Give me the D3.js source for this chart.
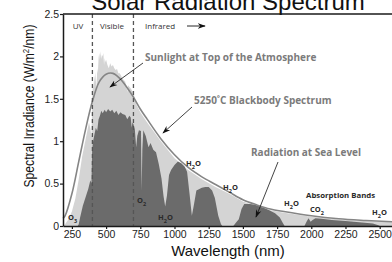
<!DOCTYPE html>
<html>
<head>
<meta charset="utf-8">
<script src="https://cdn.jsdelivr.net/npm/d3@7"></script>
<style>
  body { margin: 0; background: #fff; }
  svg { display: block; font-family: "Liberation Sans", Arial, sans-serif; }
</style>
</head>
<body>
<div id="chart"></div>
<script>
// 5250°C blackbody curve (nm, W/m2/nm)
const bbWave  = [185, 200, 250, 300, 350, 400, 450, 500, 550, 600, 650, 700, 750, 800, 900, 1000, 1100, 1200, 1300, 1400, 1500, 1600, 1700, 1800, 2000, 2200, 2400, 2590];
const bbValue = [0.09, 0.12, 0.38, 0.76, 1.14, 1.47, 1.70, 1.79, 1.80, 1.74, 1.64, 1.52, 1.38, 1.26, 1.03, 0.84, 0.69, 0.58, 0.49, 0.40, 0.31, 0.25, 0.20, 0.17, 0.12, 0.085, 0.065, 0.05];

// sunlight at top of the atmosphere
const toaWave  = [185, 200, 225, 250, 275, 300, 325, 350, 375, 385, 393, 400, 405, 410, 415, 420, 425, 430, 435, 440, 445, 450, 455, 460, 465, 470, 475, 480, 485, 490, 495, 500, 510, 520, 530, 540, 550, 560, 570, 580, 590, 600, 620, 640, 656, 660, 680, 700, 725, 750, 800, 850, 900, 950, 1000, 1100, 1200, 1300, 1400, 1500, 1600, 1700, 1800, 2000, 2200, 2400, 2590];
const toaValue = [0, 0.02, 0.08, 0.17, 0.32, 0.55, 0.82, 1.02, 1.22, 1.15, 1.05, 1.55, 1.72, 1.62, 1.78, 1.70, 1.82, 1.58, 1.86, 1.80, 1.98, 2.04, 1.96, 2.06, 1.97, 2.02, 2.00, 2.04, 1.90, 1.98, 1.93, 1.96, 1.90, 1.86, 1.92, 1.88, 1.90, 1.86, 1.84, 1.85, 1.80, 1.80, 1.74, 1.70, 1.58, 1.66, 1.62, 1.57, 1.42, 1.34, 1.22, 1.11, 1.00, 0.90, 0.80, 0.66, 0.55, 0.46, 0.38, 0.29, 0.235, 0.185, 0.155, 0.108, 0.078, 0.058, 0.044];

// radiation at sea level
const seaWave  = [185, 292, 300, 310, 330, 350, 370, 385, 393, 398, 405, 415, 425, 435, 445, 455, 465, 475, 490, 500, 515, 530, 545, 560, 575, 590, 605, 620, 640, 655, 670, 680, 687, 692, 700, 710, 720, 728, 740, 755, 760, 765, 772, 790, 810, 825, 845, 865, 885, 905, 920, 932, 945, 960, 975, 1000, 1025, 1050, 1075, 1092, 1110, 1127, 1142, 1160, 1175, 1200, 1225, 1250, 1275, 1295, 1320, 1340, 1350, 1430, 1450, 1470, 1490, 1510, 1550, 1590, 1625, 1660, 1700, 1735, 1770, 1790, 1805, 1950, 1965, 1980, 1995, 2010, 2030, 2075, 2150, 2250, 2350, 2450, 2490, 2500, 2590];
const seaValue = [0, 0, 0.02, 0.10, 0.24, 0.34, 0.44, 0.54, 0.50, 0.90, 1.00, 1.08, 1.16, 1.12, 1.26, 1.30, 1.36, 1.33, 1.37, 1.34, 1.38, 1.35, 1.37, 1.33, 1.36, 1.31, 1.34, 1.32, 1.31, 1.26, 1.30, 1.28, 1.16, 1.22, 1.20, 1.14, 0.93, 1.06, 1.13, 1.12, 0.42, 0.90, 1.13, 1.06, 0.93, 0.98, 0.90, 0.87, 0.73, 0.56, 0.35, 0.23, 0.36, 0.60, 0.66, 0.72, 0.76, 0.74, 0.70, 0.64, 0.38, 0.12, 0.25, 0.42, 0.43, 0.45, 0.46, 0.46, 0.42, 0.33, 0.12, 0.02, 0, 0, 0.04, 0.08, 0.20, 0.26, 0.26, 0.25, 0.23, 0.21, 0.18, 0.15, 0.10, 0.04, 0, 0, 0.05, 0.09, 0.05, 0.07, 0.09, 0.085, 0.07, 0.06, 0.045, 0.03, 0.01, 0, 0];

const xTicks = [250, 500, 750, 1000, 1250, 1500, 1750, 2000, 2250, 2500];
const yTicks = [0, 0.5, 1, 1.5, 2, 2.5];
const bandLines = [400, 700];

const width = 392, height = 262;

const svg = d3.select("#chart")
  .append("svg")
  .attr("width", width)
  .attr("height", height);

const x = d3.scaleLinear().domain([185, 2590]).range([63, 392]);
const y = d3.scaleLinear().domain([0, 2.5]).range([226, 14]);

svg.append("defs").append("marker")
  .attr("id", "arrow")
  .attr("viewBox", "0 0 10 10")
  .attr("refX", 9).attr("refY", 5)
  .attr("markerWidth", 8).attr("markerHeight", 8)
  .attr("markerUnits", "userSpaceOnUse")
  .attr("orient", "auto")
  .append("path")
  .attr("d", "M0,1.5 L10,5 L0,8.5 L3,5 Z")
  .attr("fill", "#111");

const toa = toaWave.map((w, i) => ({w: w, v: toaValue[i]}));
const sea = seaWave.map((w, i) => ({w: w, v: seaValue[i]}));
const bb = bbWave.map((w, i) => ({w: w, v: bbValue[i]}));

const area = d3.area()
  .x(d => x(d.w))
  .y0(y(0))
  .y1(d => y(d.v));

// filled spectra
svg.append("path").datum(toa).attr("d", area).attr("fill", "#d4d4d4");
svg.append("path").datum(sea).attr("d", area).attr("fill", "#6b6b6b");

// blackbody line
svg.append("path").datum(bb)
  .attr("d", d3.line().x(d => x(d.w)).y(d => y(d.v)).curve(d3.curveCatmullRom))
  .attr("fill", "none")
  .attr("stroke", "#858585")
  .attr("stroke-width", 1.6);

// UV / visible / IR separators
svg.selectAll("line.band")
  .data(bandLines)
  .enter()
  .append("line")
  .attr("class", "band")
  .attr("x1", d => x(d)).attr("x2", d => x(d))
  .attr("y1", y(2.5)).attr("y2", y(0))
  .attr("stroke", "#555")
  .attr("stroke-width", 1.3)
  .attr("stroke-dasharray", "4,3");

// axes
const xAxis = svg.append("g")
  .attr("transform", `translate(0,${y(0)})`)
  .call(d3.axisBottom(x).tickValues(xTicks).tickSize(3).tickSizeOuter(0).tickFormat(d3.format("")));
const yAxis = svg.append("g")
  .attr("transform", `translate(${x(185)},0)`)
  .call(d3.axisLeft(y).tickValues(yTicks).tickSize(3).tickSizeOuter(0).tickFormat(d3.format("")));

[xAxis, yAxis].forEach(g => {
  g.select(".domain").attr("stroke", "#1a1a1a").attr("stroke-width", 1.5);
  g.selectAll(".tick line").attr("stroke", "#1a1a1a").attr("stroke-width", 1.2);
  g.selectAll(".tick text")
    .attr("font-family", "'Liberation Sans', Arial, sans-serif")
    .attr("font-size", 10.5)
    .attr("fill", "#222");
});
xAxis.selectAll(".tick text").attr("dy", "0.95em").attr("y", 2);
yAxis.selectAll(".tick text").attr("x", -4);

// top frame line
svg.append("line")
  .attr("x1", x(185)).attr("x2", width)
  .attr("y1", y(2.5)).attr("y2", y(2.5))
  .attr("stroke", "#1a1a1a").attr("stroke-width", 1.5);

// titles
svg.append("text")
  .attr("x", 228).attr("y", 10)
  .attr("text-anchor", "middle")
  .attr("font-size", 24)
  .attr("fill", "#111")
  .text("Solar Radiation Spectrum");

svg.append("text")
  .attr("x", 228).attr("y", 256)
  .attr("text-anchor", "middle")
  .attr("font-size", 15)
  .attr("fill", "#111")
  .text("Wavelength (nm)");

const yLab = svg.append("text")
  .attr("transform", "translate(34,106) rotate(-90)")
  .attr("text-anchor", "middle")
  .attr("font-size", 14)
  .attr("textLength", 163)
  .attr("lengthAdjust", "spacingAndGlyphs")
  .attr("fill", "#111");
yLab.append("tspan").text("Spectral Irradiance (W/m");
yLab.append("tspan").attr("font-size", 9).attr("dy", -5).text("2");
yLab.append("tspan").attr("dy", 5).text("/nm)");

// region labels
const small = svg.append("g")
  .attr("font-family", "'Open Sans', sans-serif")
  .attr("font-size", 8)
  .attr("fill", "#333");
small.append("text").attr("x", 78).attr("y", 29).attr("text-anchor", "middle").text("UV");
small.append("text").attr("x", 112).attr("y", 29).attr("text-anchor", "middle").text("Visible");
small.append("text").attr("x", 145).attr("y", 29).text("Infrared");
svg.append("line")
  .attr("x1", 187).attr("x2", 205).attr("y1", 26).attr("y2", 26)
  .attr("stroke", "#111").attr("stroke-width", 0.9)
  .attr("marker-end", "url(#arrow)");

// callouts
const callouts = [
  {text: "Sunlight at Top of the Atmosphere", x: 145, y: 61, from: [143, 63], to: [110, 87]},
  {text: "5250˚C Blackbody Spectrum", x: 194, y: 104, from: [192, 107], to: [163, 133]},
  {text: "Radiation at Sea Level", x: 251, y: 156, from: [278, 162], to: [256, 217]}
];
callouts.forEach(c => {
  svg.append("text")
    .attr("x", c.x).attr("y", c.y)
    .attr("font-family", "'Open Sans', sans-serif")
    .attr("font-weight", 700)
    .attr("font-size", 10)
    .attr("fill", "#7b7b7b")
    .text(c.text);
  svg.append("line")
    .attr("x1", c.from[0]).attr("y1", c.from[1])
    .attr("x2", c.to[0]).attr("y2", c.to[1])
    .attr("stroke", "#111").attr("stroke-width", 0.8)
    .attr("marker-end", "url(#arrow)");
});

// absorption labels
const chem = [
  {x: 68, y: 220, parts: [["O", 0], ["3", 1]]},
  {x: 137, y: 203, parts: [["O", 0], ["2", 1]]},
  {x: 158, y: 220, parts: [["H", 0], ["2", 1], ["O", 0]]},
  {x: 186, y: 166, parts: [["H", 0], ["2", 1], ["O", 0]]},
  {x: 223, y: 190, parts: [["H", 0], ["2", 1], ["O", 0]]},
  {x: 284, y: 206, parts: [["H", 0], ["2", 1], ["O", 0]]},
  {x: 310, y: 212, parts: [["C", 0], ["O", 0], ["2", 1]]},
  {x: 372, y: 215, parts: [["H", 0], ["2", 1], ["O", 0]]}
];
chem.forEach(c => {
  const t = svg.append("text")
    .attr("x", c.x).attr("y", c.y)
    .attr("font-family", "'Open Sans', sans-serif")
    .attr("font-weight", 700)
    .attr("font-size", 7.5)
    .attr("fill", "#2a2a2a");
  let prev = 0;
  c.parts.forEach(p => {
    t.append("tspan")
      .attr("dy", (p[1] - prev) * 2.5)
      .attr("font-size", p[1] ? 5.5 : 7.5)
      .text(p[0]);
    prev = p[1];
  });
});
svg.append("text")
  .attr("x", 306).attr("y", 198)
  .attr("font-family", "'Open Sans', sans-serif")
  .attr("font-weight", 700)
  .attr("font-size", 7.8)
  .attr("fill", "#2a2a2a")
  .text("Absorption Bands");
</script>
</body>
</html>
